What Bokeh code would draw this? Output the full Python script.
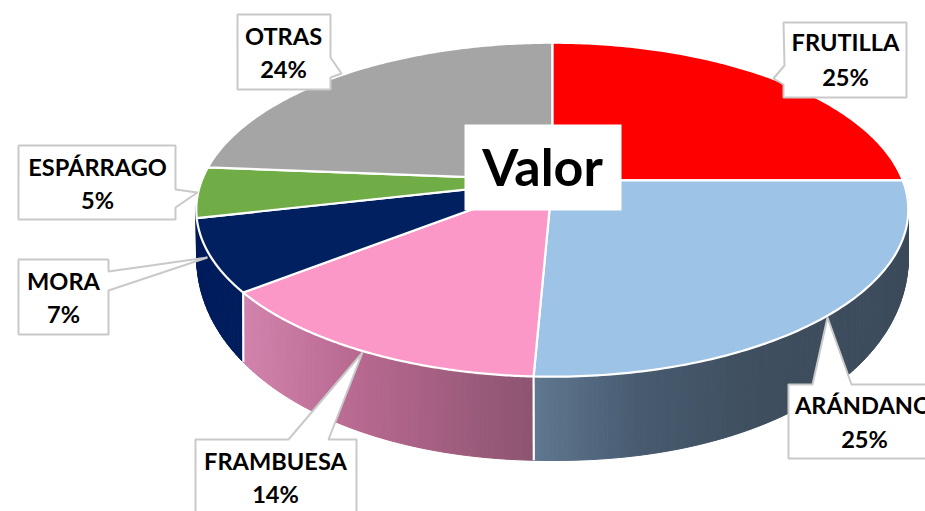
import numpy as np
from bokeh.plotting import figure
from bokeh.models import ColumnDataSource, Range1d
from bokeh.core.properties import value
from bokeh.embed import file_html
from bokeh.resources import INLINE

# ---- data ----
CATEGORIES = ["FRUTILLA", "ARÁNDANO", "FRAMBUESA", "MORA", "ESPÁRRAGO", "OTRAS"]
PERCENT_LABELS = ["25%", "25%", "14%", "7%", "5%", "24%"]
SHARES = [25.0, 25.7, 13.7, 7.0, 4.9, 23.7]
TITLE = "Valor"

# ---- styles ----
TOP_COLORS = ["#ff0000", "#9dc3e6", "#fb98c8", "#002060", "#70ad47", "#a5a5a5"]
WALL_STOPS = {
    1: ([533, 640, 760, 907], ["#5f7890", "#475a6f", "#3e4e5e", "#3c4b5b"]),
    2: ([243, 360, 533], ["#d283ad", "#b7688f", "#8c5470"]),
    3: ([190, 250], ["#011c5c", "#011c5c"]),
    4: ([190, 250], ["#011c5c", "#011c5c"]),  # the sliver of wall under the rim stays navy
}
BORDER = "#c9c9c9"

# ---- geometry of the tilted pie, in page pixels of the picture ----
TOP_CX, TOP_CY, TOP_RX, TOP_RY = 551.8, 209.2, 356.0, 167.0
LOW_CX, LOW_CY, LOW_RX, LOW_RY = 552.0, 254.0, 356.0, 206.0
LOW_POWER = 2.1  # the lower outline is slightly squarer than an ellipse
TILT = 0.176  # the pie's centre sits above the ellipse's centre under perspective


def rim(pct):
    """Normalised rim point for a cumulative percentage, clockwise from the top."""
    th = np.asarray(pct, dtype=float) / 100 * 2 * np.pi
    u, v = np.sin(th), np.cos(th)
    d = 1 + TILT * v
    return u * np.sqrt(1 - TILT ** 2) / d, (v + TILT) / d


def top_xy(x, y):
    return TOP_CX + TOP_RX * x, TOP_CY - TOP_RY * y


def low_xy(x, y):
    yy = np.sign(y) * np.clip(1 - np.abs(x) ** LOW_POWER, 0, 1) ** (1 / LOW_POWER)
    return LOW_CX + LOW_RX * x, LOW_CY - LOW_RY * yy


def hex_at(xv, stops):
    xs, cs = stops
    rgb = np.array([[int(c[i:i + 2], 16) for i in (1, 3, 5)] for c in cs], dtype=float)
    return "#%02x%02x%02x" % tuple(int(round(np.interp(xv, xs, rgb[:, k]))) for k in range(3))


cum = np.concatenate([[0], np.cumsum(SHARES)])
cum = cum / cum[-1] * 100

p = figure(width=925, height=511, output_backend="svg", toolbar_location=None,
           x_range=Range1d(0, 925), y_range=Range1d(511, 0), min_border=0)
p.xaxis.visible = False
p.yaxis.visible = False
p.grid.visible = False
p.outline_line_color = None
p.background_fill_color = "white"
p.border_fill_color = "white"

# walls: thin strips so each can carry its place in the gradient
wx, wy, wc = [], [], []
for i, stops in WALL_STOPS.items():
    edges = np.linspace(cum[i], cum[i + 1], max(int(SHARES[i] * 8), 2) + 1)
    for a, b in zip(edges[:-1], edges[1:]):
        xa, ya = rim(a)
        xb, yb = rim(b)
        tx0, ty0 = top_xy(xa, ya)
        tx1, ty1 = top_xy(xb, yb)
        lx0, ly0 = low_xy(xa, ya)
        lx1, ly1 = low_xy(xb, yb)
        wx.append([tx0, tx1, lx1, lx0])
        wy.append([ty0, ty1, ly1, ly0])
        wc.append(hex_at((lx0 + lx1) / 2, stops))
p.patches(wx, wy, fill_color=wc, line_color=wc, line_width=1)

# white seams between the walls
sx0, sy0, sx1, sy1 = [], [], [], []
for i in (2, 3):
    x, y = rim(cum[i])
    a, b = top_xy(x, y)
    c, d = low_xy(x, y)
    sx0.append(a); sy0.append(b); sx1.append(c); sy1.append(d)
p.segment(sx0, sy0, sx1, sy1, line_color="white", line_width=2.2)

# top faces
cx0, cy0 = TOP_CX, TOP_CY - TOP_RY * TILT
fx, fy = [], []
for i in range(len(SHARES)):
    x, y = rim(np.linspace(cum[i], cum[i + 1], 120))
    px, py = top_xy(x, y)
    fx.append([cx0] + list(px))
    fy.append([cy0] + list(py))
p.patches(fx, fy, fill_color=TOP_COLORS, line_color="white", line_width=2.2, line_join="round")

# callout boxes, in the order of CATEGORIES
CALLOUTS = [
    [(783, 22), (906, 22), (906, 97), (783, 97), (783, 84), (773, 78), (784, 65)],
    [(788, 384), (812, 384), (827, 317), (851, 384), (960, 384), (960, 458), (788, 458)],
    [(195, 439), (288, 439), (362, 352), (328, 439), (356, 439), (356, 540), (195, 540)],
    [(18, 259), (108, 259), (108, 271), (207, 257), (108, 290), (108, 334), (18, 334)],
    [(18, 145), (175, 145), (175, 189), (197, 192), (175, 207), (175, 219), (18, 219)],
    [(237, 14), (330, 14), (330, 57), (341, 73), (330, 77), (330, 89), (237, 89)],
]
p.patches([[q[0] for q in c] for c in CALLOUTS], [[q[1] for q in c] for c in CALLOUTS],
          fill_color="white", line_color=BORDER, line_width=2)

# label texts
NAME_POS = [(845, 41), (863, 404), (275, 460), (63, 280), (97, 166), (283, 35)]
PCT_POS = [(845, 76), (864, 438), (275, 493), (63, 313), (97, 199), (283, 68)]
src = ColumnDataSource(dict(
    x=[q[0] for q in NAME_POS + PCT_POS],
    y=[q[1] for q in NAME_POS + PCT_POS],
    t=CATEGORIES + PERCENT_LABELS,
))
p.text("x", "y", text="t", source=src, text_font=value("Lato"), text_font_style="bold",
       text_font_size="23.6px", text_color="#000000", text_align="center", text_baseline="middle")

# central title
p.quad(left=[464], right=[621], top=[124], bottom=[210], fill_color="white", line_color=None)
p.text([542], [165], text=[TITLE], text_font=value("Lato"), text_font_style="bold",
       text_font_size="52px", text_color="#000000", text_align="center", text_baseline="middle")

open("out.html", "w").write(file_html(p, INLINE))
